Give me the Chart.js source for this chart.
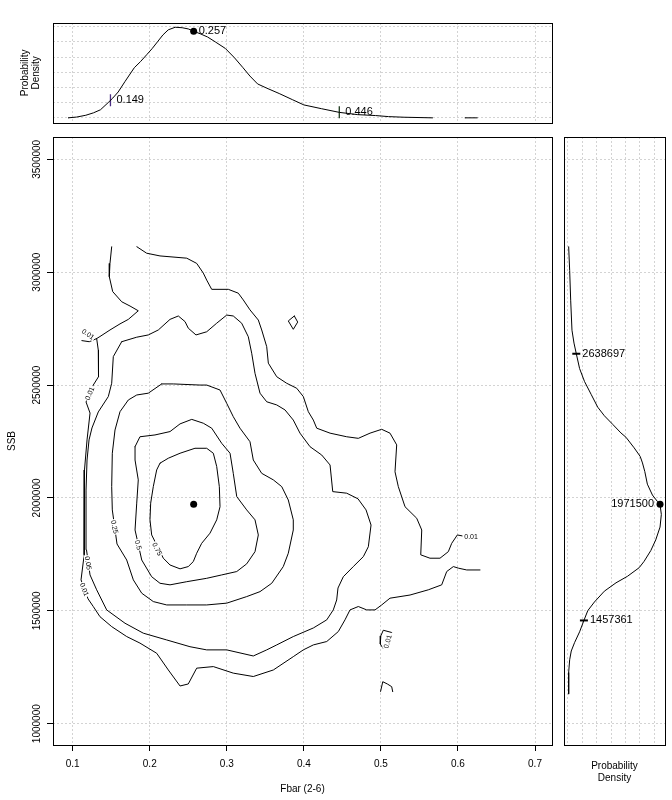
<!DOCTYPE html>
<html><head><meta charset="utf-8">
<script src="https://cdn.jsdelivr.net/npm/chart.js@4.4.1/dist/chart.umd.min.js"></script>
<style>
html,body{margin:0;padding:0;background:#fff;}
#wrap{position:relative;width:672px;height:800px;overflow:hidden;background:#fff;}
canvas{position:absolute;}
</style></head><body>
<div id="wrap">
<canvas id="cTop" width="560" height="130" style="left:0;top:0"></canvas>
<canvas id="cMain" width="556" height="670" style="left:0;top:130px"></canvas>
<canvas id="cRight" width="116" height="670" style="left:556px;top:130px"></canvas>
</div>
<script>
// ---------- tick labels ----------
const fbarTicks = [0.1, 0.2, 0.3, 0.4, 0.5, 0.6, 0.7];
const ssbTicks = [1000000, 1500000, 2000000, 2500000, 3000000, 3500000];
const densTicks = [0, 1, 2, 3, 4, 5, 6];

// ---------- marginal densities ----------
const fbarDens = [[0.094,0],[0.105,0.05],[0.117,0.17],[0.127,0.33],[0.136,0.53],[0.146,1.0],[0.152,1.3],[0.159,1.7],[0.168,2.4],[0.180,3.3],[0.188,3.7],[0.196,4.15],[0.203,4.55],[0.210,5.0],[0.217,5.45],[0.224,5.79],[0.233,5.96],[0.242,5.93],[0.250,5.85],[0.257,5.70],[0.266,5.52],[0.275,5.32],[0.285,5.0],[0.298,4.57],[0.310,3.95],[0.321,3.3],[0.330,2.75],[0.340,2.23],[0.352,1.95],[0.368,1.6],[0.385,1.2],[0.400,0.85],[0.423,0.6],[0.446,0.36],[0.470,0.21],[0.493,0.15],[0.510,0.08],[0.530,0.04],[0.567,0]];
const fbarDensTail = [[0.609,0],[0.625,0]];
const ssbDens = [[3113000,0.05],[3008000,0.12],[2876000,0.19],[2743000,0.28],[2686000,0.42],[2639000,0.58],[2573000,0.81],[2516000,1.15],[2459000,1.61],[2402000,2.07],[2364000,2.53],[2326000,3.11],[2288000,3.68],[2269000,4.03],[2222000,4.60],[2184000,5.02],[2155000,5.18],[2117000,5.34],[2061000,5.52],[2013000,5.87],[1985000,6.21],[1971500,6.40],[1927000,6.49],[1871000,6.40],[1814000,6.10],[1767000,5.76],[1719000,5.29],[1691000,4.95],[1653000,4.14],[1624000,3.34],[1587000,2.53],[1539000,1.84],[1501000,1.38],[1457361,1.11],[1407000,0.81],[1359000,0.46],[1322000,0.23],[1283000,0.12],[1227000,0.05],[1132000,0.05]];

// quantiles / medians
const fbarQuant = [0.149, 0.257, 0.446];
const fbarQuantDens = [1.15, 5.70, 0.36];
const ssbQuant = [1457361, 1971500, 2638697];
const ssbQuantDens = [1.11, 6.40, 0.58];

// ---------- contour lines [Fbar, SSB] ----------
const lvl075 = [[0.2133,2154000],[0.2241,2176000],[0.2393,2198000],[0.2587,2220000],[0.2739,2220000],[0.2825,2198000],[0.2869,2139000],[0.2903,2050000],[0.2912,1961000],[0.2869,1903000],[0.2782,1844000],[0.2674,1799000],[0.2609,1755000],[0.2565,1718000],[0.2500,1696000],[0.2393,1686000],[0.2263,1703000],[0.2176,1733000],[0.2025,1836000],[0.2003,1903000],[0.2012,1977000],[0.2046,2050000],[0.2090,2124000],[0.2133,2154000]];
const lvl050 = [[0.1809,2227000],[0.1873,2271000],[0.2068,2279000],[0.2263,2294000],[0.2393,2328000],[0.2545,2348000],[0.2695,2331000],[0.2804,2309000],[0.2934,2242000],[0.3042,2198000],[0.3084,2109000],[0.3129,2006000],[0.3258,1947000],[0.3366,1903000],[0.3409,1836000],[0.3366,1762000],[0.3258,1708000],[0.3129,1674000],[0.2934,1659000],[0.2739,1644000],[0.2480,1629000],[0.2263,1615000],[0.2133,1622000],[0.2025,1651000],[0.1896,1725000],[0.1809,1858000],[0.1831,1977000],[0.1851,2080000],[0.1809,2168000],[0.1809,2227000]];
const lvl025 = [[0.2155,2505000],[0.1981,2464000],[0.1831,2456000],[0.1722,2434000],[0.1614,2382000],[0.1549,2301000],[0.1514,2198000],[0.1506,2050000],[0.1514,1947000],[0.1575,1796000],[0.1701,1725000],[0.1787,1637000],[0.1896,1578000],[0.2046,1541000],[0.2220,1526000],[0.2480,1526000],[0.2739,1526000],[0.2999,1534000],[0.3258,1563000],[0.3431,1585000],[0.3583,1622000],[0.3733,1696000],[0.3798,1755000],[0.3863,1858000],[0.3863,1903000],[0.3798,1991000],[0.3713,2050000],[0.3604,2080000],[0.3453,2109000],[0.3344,2168000],[0.3301,2249000],[0.3171,2309000],[0.3084,2360000],[0.2999,2419000],[0.2912,2478000],[0.2739,2500000],[0.2652,2500000],[0.2306,2505000],[0.2155,2505000]];
const lvl005 = [[0.1636,2692000],[0.1831,2712000],[0.1981,2722000],[0.2111,2744000],[0.2263,2791000],[0.2371,2806000],[0.2458,2781000],[0.2500,2752000],[0.2600,2722000],[0.2739,2736000],[0.2869,2774000],[0.2999,2810000],[0.3084,2806000],[0.3193,2774000],[0.3279,2714000],[0.3323,2641000],[0.3366,2552000],[0.3431,2464000],[0.3518,2426000],[0.3648,2412000],[0.3755,2390000],[0.3863,2345000],[0.3950,2287000],[0.4080,2227000],[0.4232,2190000],[0.4340,2146000],[0.4375,2028000],[0.4556,2021000],[0.4703,1996000],[0.4807,1947000],[0.4872,1880000],[0.4837,1784000],[0.4772,1740000],[0.4642,1696000],[0.4512,1651000],[0.4443,1601000],[0.4426,1548000],[0.4382,1504000],[0.4297,1460000],[0.4123,1424000],[0.3863,1386000],[0.3648,1349000],[0.3518,1327000],[0.3344,1300000],[0.2999,1327000],[0.2739,1327000],[0.2522,1341000],[0.2220,1371000],[0.1916,1401000],[0.1679,1445000],[0.1441,1504000],[0.1311,1593000],[0.1225,1659000],[0.1179,1770000],[0.1173,1903000],[0.1173,2035000],[0.1186,2168000],[0.1212,2257000],[0.1250,2310000],[0.1332,2381000],[0.1462,2449000],[0.1506,2508000],[0.1527,2626000],[0.1636,2692000]];
const lvl001a = [[0.1831,3113000],[0.1960,3084000],[0.2133,3072000],[0.2480,3062000],[0.2609,3039000],[0.2695,2996000],[0.2739,2965000],[0.2804,2924000],[0.3020,2924000],[0.3149,2907000],[0.3214,2877000],[0.3301,2833000],[0.3409,2788000],[0.3453,2744000],[0.3518,2670000],[0.3539,2597000],[0.3648,2537000],[0.3777,2508000],[0.3907,2486000],[0.3993,2449000],[0.4058,2382000],[0.4123,2345000],[0.4167,2309000],[0.4340,2287000],[0.4556,2271000],[0.4707,2264000],[0.4859,2287000],[0.5010,2304000],[0.5118,2287000],[0.5205,2235000],[0.5183,2116000],[0.5226,2050000],[0.5313,1961000],[0.5465,1910000],[0.5530,1858000],[0.5517,1748000],[0.5637,1733000],[0.5767,1733000],[0.5875,1762000],[0.5919,1799000],[0.5992,1836000],[0.6053,1832000]];
const lvl001b = [[0.1506,3113000],[0.1484,3039000],[0.1475,2980000],[0.1519,2914000],[0.1636,2869000],[0.1744,2850000],[0.1851,2829000],[0.1722,2791000],[0.1614,2771000],[0.1484,2744000],[0.1354,2715000],[0.1311,2706000],[0.1332,2655000],[0.1335,2537000],[0.1267,2500000],[0.1173,2425000],[0.1225,2376000],[0.1186,2257000],[0.1153,2124000],[0.1147,2000000],[0.1153,1858000],[0.1147,1748000],[0.1108,1637000],[0.1199,1553000],[0.1267,1519000],[0.1354,1474000],[0.1506,1430000],[0.1701,1386000],[0.1873,1357000],[0.2090,1312000],[0.2241,1238000],[0.2393,1167000],[0.2500,1176000],[0.2609,1246000],[0.2825,1253000],[0.3084,1224000],[0.3344,1209000],[0.3604,1238000],[0.3863,1297000],[0.3993,1327000],[0.4123,1349000],[0.4297,1364000],[0.4447,1408000],[0.4534,1460000],[0.4599,1504000],[0.4707,1519000],[0.4816,1504000],[0.4924,1504000],[0.5010,1526000],[0.5118,1556000],[0.5378,1570000],[0.5615,1593000],[0.5789,1615000],[0.5854,1674000],[0.5940,1696000],[0.6005,1689000],[0.6114,1681000],[0.6286,1681000]];
const lvl001c = [[0.1117,2697000],[0.1215,2692000],[0.1311,2706000]];
const lvl001d = [[0.5140,1404000],[0.5031,1414000],[0.4999,1389000],[0.4992,1353000],[0.5027,1334000]];
const lvl001e = [[0.4995,1142000],[0.5024,1186000],[0.5083,1176000],[0.5140,1164000],[0.5153,1142000]];
const lvl001f = [[0.3876,2806000],[0.3920,2779000],[0.3863,2747000],[0.3798,2784000],[0.3876,2806000]];

// contour label text and where it sits (data units, angle in degrees)
const contourLabelText = ['0.01','0.01','0.25','0.5','0.75','0.05','0.01','0.01','0.01'];
const contourLabelAt = [[0.1200,2726000,35],[0.1221,2463000,-67],[0.1545,1872000,78],[0.1851,1792000,75],[0.2098,1774000,63],[0.1202,1712000,80],[0.1153,1595000,68],[0.6170,1828000,0],[0.5086,1364000,-75]];

// ---------- helpers / styling ----------
const FONT = '"Liberation Sans", Arial, Helvetica, sans-serif';
Chart.defaults.font.family = FONT;
Chart.defaults.color = '#000';
const GRID = '#d3d3d3';
const DASH = [2, 2];
const xy = arr => arr.map(p => ({x: p[0], y: p[1]}));
const yx = arr => arr.map(p => ({x: p[1], y: p[0]}));
const lineDs = (data, extra) => Object.assign({data, showLine: true, borderColor: '#000', borderWidth: 1, pointRadius: 0, fill: false, tension: 0, borderJoinStyle: 'round', borderCapStyle: 'round'}, extra || {});
const setTicks = arr => s => { s.ticks = arr.map(v => ({value: v})); };

const framePlugin = {
  id: 'frame',
  afterDraw(chart) {
    const {ctx, chartArea: a} = chart;
    ctx.save();
    ctx.strokeStyle = '#000'; ctx.lineWidth = 1;
    ctx.strokeRect(Math.round(a.left) + 0.5, Math.round(a.top) + 0.5, Math.round(a.right - a.left), Math.round(a.bottom - a.top));
    ctx.restore();
  }
};
const baseOpts = {responsive: false, animation: false, events: [], plugins: {legend: {display: false}, tooltip: {enabled: false}}};

const FMIN = 0.07443, FMAX = 0.72206;
const SMIN = 905650, SMAX = 3598778;

// ---------- top panel: Fbar density ----------
new Chart(document.getElementById('cTop'), {
  type: 'scatter',
  data: {datasets: [
    lineDs(xy(fbarDens)),
    lineDs(xy(fbarDensTail)),
    {data: [{x: fbarQuant[0], y: fbarQuantDens[0]}], pointStyle: 'line', rotation: 90, pointRadius: 6, pointBorderColor: '#4b2e83', pointBorderWidth: 1.3},
    {data: [{x: fbarQuant[2], y: fbarQuantDens[2]}], pointStyle: 'line', rotation: 90, pointRadius: 6, pointBorderColor: '#1c3a1c', pointBorderWidth: 1.3},
    {data: [{x: fbarQuant[1], y: fbarQuantDens[1]}], pointStyle: 'circle', pointRadius: 3.5, pointBackgroundColor: '#000', pointBorderColor: '#000', pointBorderWidth: 0}
  ]},
  options: Object.assign({}, baseOpts, {
    layout: {padding: {top: 23, right: 8, bottom: 5, left: 0}},
    scales: {
      x: {type: 'linear', min: FMIN, max: FMAX, afterBuildTicks: setTicks(fbarTicks), afterFit: s => { s.height = 0; },
          grid: {color: GRID, drawTicks: false}, border: {display: false, dash: DASH}, ticks: {display: false}},
      y: {type: 'linear', min: -0.32, max: 6.24, afterBuildTicks: setTicks(densTicks), afterFit: s => { s.width = 53; },
          grid: {color: GRID, drawTicks: false}, border: {display: false, dash: DASH}, ticks: {display: false},
          title: {display: true, text: ['Probability', 'Density'], font: {size: 10, lineHeight: 1.1}, padding: {top: 19.5, bottom: 0}}}
    }
  }),
  plugins: [framePlugin, {
    id: 'fbarLabels',
    afterDatasetsDraw(chart) {
      const {ctx, scales: {x, y}} = chart;
      ctx.save();
      ctx.font = '11px ' + FONT; ctx.fillStyle = '#000'; ctx.textBaseline = 'middle'; ctx.textAlign = 'left';
      fbarQuant.forEach((q, i) => {
        ctx.fillText(String(q), x.getPixelForValue(q) + (i === 1 ? 5 : 6), y.getPixelForValue(fbarQuantDens[i]));
      });
      ctx.restore();
    }
  }]
});

// ---------- main panel: contours ----------
new Chart(document.getElementById('cMain'), {
  type: 'scatter',
  data: {datasets: [
    lineDs(xy(lvl001a)), lineDs(xy(lvl001b)), lineDs(xy(lvl001c)), lineDs(xy(lvl001d)), lineDs(xy(lvl001e)), lineDs(xy(lvl001f)),
    lineDs(xy(lvl005)), lineDs(xy(lvl025)), lineDs(xy(lvl050)), lineDs(xy(lvl075)),
    {data: [{x: fbarQuant[1], y: ssbQuant[1]}], pointStyle: 'circle', pointRadius: 3.5, pointBackgroundColor: '#000', pointBorderColor: '#000', pointBorderWidth: 0}
  ]},
  options: Object.assign({}, baseOpts, {
    layout: {padding: {top: 7, right: 4, bottom: 0, left: 0}},
    scales: {
      x: {type: 'linear', position: 'bottom', min: FMIN, max: FMAX, afterBuildTicks: setTicks(fbarTicks), afterFit: s => { s.height = 55; },
          grid: {color: GRID, tickLength: 6, tickColor: '#000', tickWidth: 1, tickBorderDash: []}, border: {display: false, dash: DASH},
          ticks: {font: {size: 10}, color: '#000', padding: 7, maxRotation: 0, autoSkip: false, callback: v => String(v)},
          title: {display: true, text: 'Fbar (2-6)', font: {size: 10}, color: '#000', padding: {top: 0, bottom: 5}}},
      y: {type: 'linear', position: 'left', min: SMIN, max: SMAX, afterBuildTicks: setTicks(ssbTicks), afterFit: s => { s.width = 53; },
          grid: {color: GRID, tickLength: 6, tickColor: '#000', tickWidth: 1, tickBorderDash: []}, border: {display: false, dash: DASH},
          ticks: {font: {size: 10}, color: '#000', padding: -9.5, minRotation: 90, maxRotation: 90, crossAlign: 'center', autoSkip: false, callback: v => String(v)},
          title: {display: true, text: 'SSB', font: {size: 10}, color: '#000', padding: {top: 6, bottom: 0}}}
    }
  }),
  plugins: [framePlugin, {
    id: 'contourLabels',
    afterDatasetsDraw(chart) {
      const {ctx, scales: {x, y}} = chart;
      ctx.save();
      ctx.font = '7px ' + FONT; ctx.textAlign = 'center'; ctx.textBaseline = 'middle';
      contourLabelText.forEach((t, i) => {
        const [vx, vy, ang] = contourLabelAt[i];
        const w = ctx.measureText(t).width;
        ctx.save();
        ctx.translate(x.getPixelForValue(vx), y.getPixelForValue(vy));
        ctx.rotate(ang * Math.PI / 180);
        ctx.fillStyle = '#fff'; ctx.fillRect(-w / 2 - 1, -3.5, w + 2, 7);
        ctx.fillStyle = '#000'; ctx.fillText(t, 0, 0.5);
        ctx.restore();
      });
      ctx.restore();
    }
  }]
});

// ---------- right panel: SSB density ----------
new Chart(document.getElementById('cRight'), {
  type: 'scatter',
  data: {datasets: [
    lineDs(yx(ssbDens)),
    {data: [{x: ssbQuantDens[0], y: ssbQuant[0]}, {x: ssbQuantDens[2], y: ssbQuant[2]}], pointStyle: 'line', rotation: 0, pointRadius: 4, pointBorderColor: '#000', pointBorderWidth: 2},
    {data: [{x: ssbQuantDens[1], y: ssbQuant[1]}], pointStyle: 'circle', pointRadius: 3.5, pointBackgroundColor: '#000', pointBorderColor: '#000', pointBorderWidth: 0}
  ]},
  options: Object.assign({}, baseOpts, {
    layout: {padding: {top: 7, right: 7, bottom: 0, left: 8}},
    scales: {
      x: {type: 'linear', position: 'bottom', min: -0.274, max: 6.745, afterBuildTicks: setTicks(densTicks), afterFit: s => { s.height = 55; },
          grid: {color: GRID, drawTicks: false}, border: {display: false, dash: DASH}, ticks: {display: false},
          title: {display: true, text: ['Probability', 'Density'], font: {size: 10, lineHeight: 1.2}, color: '#000', padding: {top: 0, bottom: 16}}},
      y: {type: 'linear', position: 'left', min: SMIN, max: SMAX, afterBuildTicks: setTicks(ssbTicks), afterFit: s => { s.width = 0; },
          grid: {color: GRID, drawTicks: false}, border: {display: false, dash: DASH}, ticks: {display: false}}
    }
  }),
  plugins: [framePlugin, {
    id: 'ssbLabels',
    afterDatasetsDraw(chart) {
      const {ctx, scales: {x, y}} = chart;
      ctx.save();
      ctx.font = '11px ' + FONT; ctx.fillStyle = '#000'; ctx.textBaseline = 'middle';
      ssbQuant.forEach((q, i) => {
        const px = x.getPixelForValue(ssbQuantDens[i]), py = y.getPixelForValue(q);
        if (i === 1) { ctx.textAlign = 'right'; ctx.fillText(String(q), px - 6, py); }
        else { ctx.textAlign = 'left'; ctx.fillText(String(q), px + 6, py); }
      });
      ctx.restore();
    }
  }]
});
</script>
</body></html>
